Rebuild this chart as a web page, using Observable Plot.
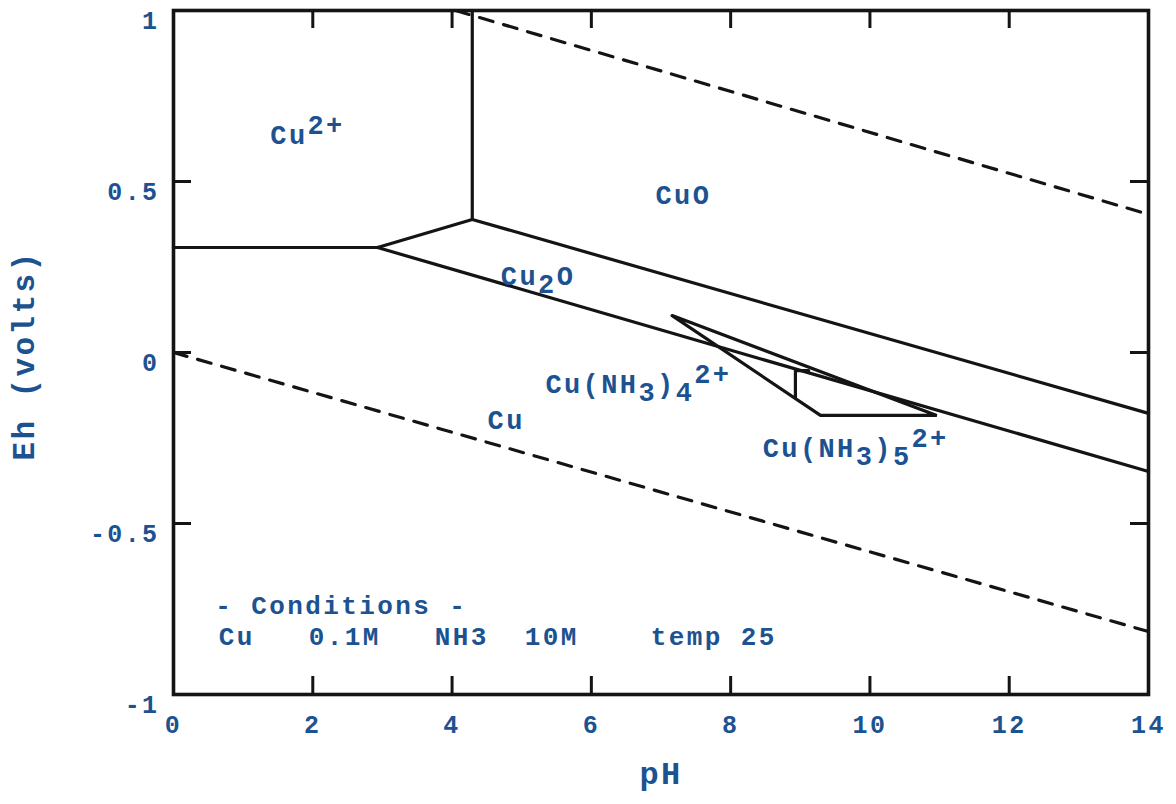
<!DOCTYPE html>
<html>
<head>
<meta charset="utf-8">
<script src="https://cdn.jsdelivr.net/npm/d3@7"></script>
<script src="https://cdn.jsdelivr.net/npm/@observablehq/plot@0.6"></script>
<style>
  html, body { margin: 0; padding: 0; background: #fff; }
  #chart svg text { white-space: pre; }
</style>
</head>
<body>
<div id="chart"></div>
<script>
// ---- Data (pH, Eh in volts) ----
const xTicks = [0, 2, 4, 6, 8, 10, 12, 14];
const yTicks = [-1, -0.5, 0, 0.5, 1];
const yTickLabels = ["-1", "-0.5", "0", "0.5", "1"];

// solid phase-boundary lines
const lineCu2Cu     = [[0, 0.307], [2.93, 0.307]];
const lineCu2Cu2O   = [[2.93, 0.307], [4.29, 0.389]];
const lineCu2CuO    = [[4.29, 0.389], [4.29, 1.0]];
const lineCuOCu2O   = [[4.29, 0.389], [14, -0.178]];
const lineCu2OCu    = [[2.93, 0.307], [14, -0.348]];
const lineAmmine4   = [[7.16, 0.108], [9.29, -0.184], [10.96, -0.184], [7.16, 0.108]];
const lineAmmine5   = [[9.12, -0.053], [8.93, -0.053], [8.93, -0.133]];

// water stability limits (dashed)
const waterUpper = [[4.05, 1.0], [14, 0.404]];
const waterLower = [[0, 0.0], [14, -0.816]];

// region labels
const labelMarkup = ["Cu^{2+}", "CuO", "Cu_{2}O", "Cu(NH_{3})_{4}^{2+}", "Cu", "Cu(NH_{3})_{5}^{2+}"];
const labelPH = [1.39, 6.92, 4.70, 5.34, 4.51, 8.46];
const labelEh = [0.635, 0.459, 0.222, -0.094, -0.199, -0.281];

// conditions note
const noteText = ["- Conditions -", "Cu   0.1M   NH3  10M    temp 25"];
const notePH = [0.60, 0.65];
const noteEh = [-0.740, -0.830];

// ---- build ----
const blue = "#1d5291";
const ink = "#141414";
const font = "'Liberation Mono', 'DejaVu Sans Mono', monospace";

const solidLines = [lineCu2Cu, lineCu2Cu2O, lineCu2CuO, lineCuOCu2O, lineCu2OCu, lineAmmine4, lineAmmine5];
const solidRows = solidLines.flatMap((pts, k) => pts.map(([pH, Eh]) => ({k, pH, Eh})));
const dashRows = [waterUpper, waterLower].flatMap((pts, k) => pts.map(([pH, Eh]) => ({k, pH, Eh})));

function parseMarkup(s) {
  const parts = [];
  const re = /([_^])\{([^}]*)\}/g;
  let last = 0, m;
  while ((m = re.exec(s))) {
    if (m.index > last) parts.push({t: s.slice(last, m.index), lvl: 0});
    parts.push({t: m[2], lvl: m[1] === "^" ? 1 : -1});
    last = re.lastIndex;
  }
  if (last < s.length) parts.push({t: s.slice(last), lvl: 0});
  return parts;
}
const labels = labelMarkup.map((mk, i) => ({
  parts: parseMarkup(mk),
  plain: parseMarkup(mk).map(p => p.t).join(""),
  pH: labelPH[i], Eh: labelEh[i]
}));
const notes = noteText.map((t, i) => ({t, pH: notePH[i], Eh: noteEh[i]}));

const W = 1176, H = 804;
const mT = 10, mB = 110, mL = 173, mR = 28;
const plotH = H - mT - mB, plotW = W - mL - mR;
const tickLen = 18;

const chart = Plot.plot({
  width: W, height: H,
  marginTop: mT, marginBottom: mB, marginLeft: mL, marginRight: mR,
  x: {domain: [0, 14], axis: null},
  y: {domain: [-1, 1], axis: null},
  style: {fontFamily: font, fontWeight: "bold", letterSpacing: "2.4px", background: "#fff", overflow: "visible"},
  marks: [
    // dashed water lines
    Plot.line(dashRows, {x: "pH", y: "Eh", z: "k", stroke: ink, strokeWidth: 3.2, strokeDasharray: "14,11", clip: true}),
    // phase boundaries
    Plot.line(solidRows, {x: "pH", y: "Eh", z: "k", stroke: ink, strokeWidth: 3.2, strokeLinejoin: "miter"}),
    // inward ticks
    Plot.tickX(xTicks, {x: d => d, insetTop: plotH - tickLen, stroke: ink, strokeWidth: 3}),
    Plot.tickX(xTicks, {x: d => d, insetBottom: plotH - tickLen, stroke: ink, strokeWidth: 3}),
    Plot.tickY(yTicks, {y: d => d, insetRight: plotW - tickLen, stroke: ink, strokeWidth: 3}),
    Plot.tickY(yTicks, {y: d => d, insetLeft: plotW - tickLen, stroke: ink, strokeWidth: 3}),
    Plot.frame({stroke: ink, strokeWidth: 3.6}),
    // tick labels
    Plot.text(xTicks, {x: d => d, frameAnchor: "bottom", dy: 38, text: d => String(d), fill: blue, fontSize: 25, fontWeight: "bold"}),
    Plot.text(yTicks, {y: d => d, frameAnchor: "left", dx: -14, dy: 10, textAnchor: "end", text: (d, i) => yTickLabels[i], fill: blue, fontSize: 25, fontWeight: "bold"}),
    // axis titles
    Plot.text(["pH"], {frameAnchor: "bottom", dy: 89, textAnchor: "middle", text: d => d, fill: blue, fontSize: 32, fontWeight: "bold"}),
    Plot.text(["Eh (volts)"], {frameAnchor: "left", dx: -149, dy: 3, textAnchor: "middle", rotate: -90, text: d => d, fill: blue, fontSize: 31, fontWeight: "bold"}),
    // region labels
    Plot.text(labels, {x: "pH", y: "Eh", text: "plain", textAnchor: "start", fill: blue, fontSize: 27, fontWeight: "bold", className: "phase-label"}),
    // conditions
    Plot.text(notes, {x: "pH", y: "Eh", text: "t", textAnchor: "start", fill: blue, fontSize: 26, fontWeight: "bold"})
  ]
});

// rich text: subscripts and superscripts
d3.select(chart).selectAll(".phase-label text").each(function(idx, j) {
  const i = typeof idx === "number" ? idx : j;
  const el = d3.select(this);
  el.text(null);
  let cur = 0;
  for (const p of labels[i].parts) {
    const target = p.lvl === 1 ? -10 : p.lvl === -1 ? 8 : 0;
    el.append("tspan").attr("dy", target - cur).text(p.t);
    cur = target;
  }
});

document.getElementById("chart").appendChild(chart);
</script>
</body>
</html>
